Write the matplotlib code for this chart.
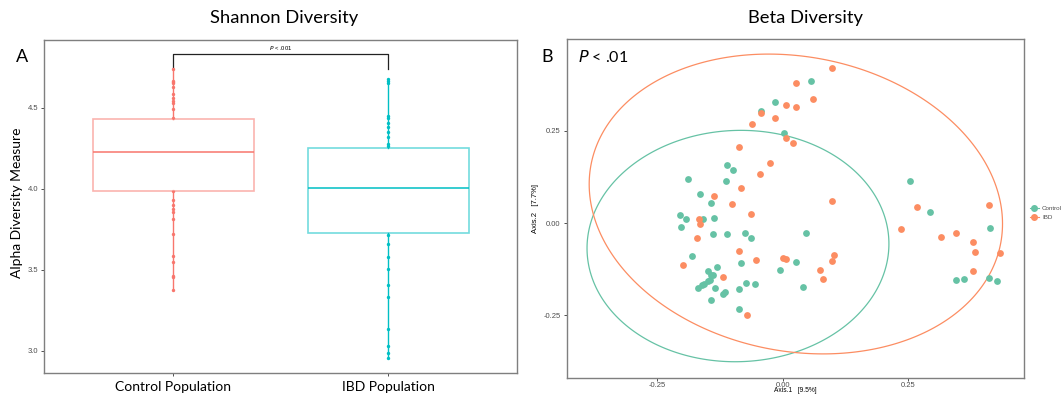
import matplotlib.pyplot as plt
import numpy as np
from matplotlib.lines import Line2D
from matplotlib.patches import Polygon

# --- Shannon diversity (panel A) ---
groups = ["Control Population", "IBD Population"]
alpha_q1 = [3.988, 3.725]
alpha_median = [4.228, 4.004]
alpha_q3 = [4.428, 4.249]
alpha_min = [3.375, 2.953]
alpha_max = [4.739, 4.677]

control_alpha = [4.739, 4.667, 4.660, 4.651, 4.626, 4.583, 4.562, 4.541, 4.527,
                 4.492, 4.435, 3.985, 3.928, 3.901, 3.875, 3.854, 3.813, 3.720,
                 3.586, 3.545, 3.461, 3.453, 3.375]
ibd_alpha = [4.677, 4.667, 4.654, 4.449, 4.435, 4.407, 4.379, 4.350, 4.321,
             4.276, 4.265, 3.714, 3.657, 3.577, 3.502, 3.406, 3.334, 3.135,
             3.030, 2.984, 2.953]

# --- Beta diversity PCoA (panel B) ---
control_ax1 = [0.057, -0.016, -0.043, 0.002, -0.111, -0.100, -0.114, -0.188, -0.164,
               -0.143, -0.204, -0.192, -0.159, -0.137, -0.203, -0.140, -0.111, -0.075,
               -0.064, 0.046, -0.180, -0.083, 0.026, -0.006, -0.131, -0.149, -0.144,
               -0.139, -0.146, -0.150, -0.156, -0.160, -0.168, -0.136, -0.073, -0.056,
               -0.088, -0.115, -0.119, -0.144, -0.088, 0.040, 0.254, 0.294, 0.413,
               0.346, 0.360, 0.410, 0.426]
control_ax2 = [0.386, 0.329, 0.303, 0.245, 0.158, 0.143, 0.115, 0.119, 0.078,
               0.053, 0.023, 0.012, 0.011, 0.014, -0.011, -0.031, -0.029, -0.026,
               -0.040, -0.028, -0.089, -0.109, -0.105, -0.128, -0.118, -0.129, -0.141,
               -0.142, -0.154, -0.158, -0.164, -0.168, -0.175, -0.175, -0.162, -0.166,
               -0.178, -0.186, -0.191, -0.209, -0.233, -0.174, 0.114, 0.031, -0.013,
               -0.154, -0.153, -0.150, -0.156]
ibd_ax1 = [0.098, 0.026, 0.060, 0.006, 0.026, -0.044, -0.015, -0.062, 0.006, 0.020,
           -0.087, -0.025, -0.045, -0.084, -0.138, -0.101, 0.099, -0.064, -0.166,
           -0.165, -0.171, -0.087, -0.199, 0.000, 0.006, -0.053, 0.102, 0.098, 0.075,
           0.080, -0.119, -0.072, 0.235, 0.268, 0.315, 0.346, 0.379, 0.411, 0.383,
           0.432, 0.378]
ibd_ax2 = [0.420, 0.378, 0.337, 0.319, 0.313, 0.298, 0.284, 0.267, 0.230, 0.217,
           0.205, 0.162, 0.134, 0.095, 0.072, 0.052, 0.059, 0.024, 0.011, -0.004,
           -0.040, -0.075, -0.114, -0.094, -0.098, -0.101, -0.088, -0.103, -0.128,
           -0.153, -0.147, -0.249, -0.017, 0.044, -0.039, -0.028, -0.051, 0.049,
           -0.079, -0.081, -0.130]

# confidence ellipses: centre, x half-width, tilt term, y term
ell_names = ["Control", "IBD"]
ell_cx = [-0.0893, 0.026]
ell_cy = [-0.0624, 0.0515]
ell_px = [0.3007, 0.4117]
ell_r = [0.006, -0.0535]
ell_s = [0.3133, 0.4025]

red, teal = "#F8766D", "#00BFC4"
green, orange = "#66C2A5", "#FC8D62"
grey_txt = "#4D4D4D"
big_font = ["Lato", "DejaVu Sans"]
small_font = ["Liberation Sans", "DejaVu Sans"]

W, H = 1062, 394
fig = plt.figure(figsize=(W / 100, H / 100), dpi=100)
plt.rcParams["font.family"] = small_font

def px_box(x0, y0, x1, y1):
    return [x0 / W, 1 - y1 / H, (x1 - x0) / W, (y1 - y0) / H]

# panel A
ax1 = fig.add_axes(px_box(44.3, 39.5, 517.3, 373.3))
pos = [1, 2]
for i, vals in enumerate([control_alpha, ibd_alpha]):
    c = [red, teal][i]
    ax1.scatter(np.full(len(vals), pos[i]), vals, s=6, color=c, zorder=3, linewidths=0)
    stats = [dict(med=alpha_median[i], q1=alpha_q1[i], q3=alpha_q3[i],
                  whislo=alpha_min[i], whishi=alpha_max[i], fliers=[])]
    ax1.bxp(stats, positions=[pos[i]], widths=0.75, showcaps=False, showfliers=False,
            patch_artist=True,
            boxprops=dict(facecolor="white", edgecolor=c, alpha=0.55, linewidth=1.2),
            medianprops=dict(color=c, alpha=0.85, linewidth=1.3),
            whiskerprops=dict(color=c, linewidth=1.0), zorder=4)

ax1.plot([1, 1, 2, 2], [4.745, 4.831, 4.831, 4.74], color="#222222", lw=0.9)
ax1.text(1.5, 4.842, r"$\it{P}$ < .001", ha="center", va="bottom", fontsize=4.2)
ax1.set_xlim(0.4, 2.6)
ax1.set_ylim(2.860, 4.921)
ax1.set_yticks([3.0, 3.5, 4.0, 4.5])
ax1.set_yticklabels(["3.0", "3.5", "4.0", "4.5"], fontsize=5.5, color=grey_txt)
ax1.set_xticks(pos)
ax1.set_xticklabels(groups, fontsize=10, family=big_font)
ax1.tick_params(axis="both", length=2.5, width=0.6, color="#333333", pad=2)
ax1.tick_params(axis="x", pad=3)
for sp in ax1.spines.values():
    sp.set_color("#7F7F7F")
    sp.set_linewidth(1.0)

# panel B
ax2 = fig.add_axes(px_box(566.7, 39.3, 1024, 377.7))
ax2.scatter(control_ax1, control_ax2, s=24, color=green, linewidths=0, zorder=3)
ax2.scatter(ibd_ax1, ibd_ax2, s=24, color=orange, linewidths=0, zorder=3)
t = np.linspace(0, 2 * np.pi, 300, endpoint=False)
for i, c in enumerate([green, orange]):
    ring = np.column_stack([ell_cx[i] + ell_px[i] * np.cos(t),
                            ell_cy[i] + ell_r[i] * np.cos(t) + ell_s[i] * np.sin(t)])
    ax2.add_patch(Polygon(ring, closed=True, fill=False, edgecolor=c, lw=0.9, zorder=2))
ax2.set_xlim(-0.4305, 0.4805)
ax2.set_ylim(-0.419, 0.4976)
ticks = [-0.25, 0.0, 0.25]
ax2.set_xticks(ticks)
ax2.set_xticklabels(["-0.25", "0.00", "0.25"], fontsize=5.5, color=grey_txt)
ax2.set_yticks(ticks)
ax2.set_yticklabels(["-0.25", "0.00", "0.25"], fontsize=5.5, color=grey_txt)
ax2.tick_params(axis="both", length=2.5, width=0.6, color="#333333", pad=2)
ax2.tick_params(axis="x", pad=0.5)
ax2.set_xlabel("Axis.1   [9.5%]", fontsize=4.8)
ax2.xaxis.set_label_coords(0.5, -(391 - 377.7) / (377.7 - 39.3))
ax2.xaxis.label.set_va("center")
ax2.set_ylabel("Axis.2   [7.7%]", fontsize=5.5, labelpad=3)
for sp in ax2.spines.values():
    sp.set_color("#7F7F7F")
    sp.set_linewidth(1.0)

handles = [Line2D([], [], color=c, marker="o", markersize=4, lw=0.8)
           for c in [green, orange]]
fig.legend(handles, ell_names, loc="center left", bbox_to_anchor=(1024 / W, 1 - 213 / H),
           frameon=False, fontsize=4.5, handlelength=1.5, handletextpad=0.5,
           labelspacing=0.5, labelcolor=grey_txt)

# headings and panel letters
fig.text(284 / W, 1 - 18 / H, "Shannon Diversity", ha="center", va="center",
         fontsize=13.2, family=big_font)
fig.text(806 / W, 1 - 18 / H, "Beta Diversity", ha="center", va="center",
         fontsize=13.2, family=big_font)
fig.text(22.4 / W, 1 - 57 / H, "A", ha="center", va="center", fontsize=13, family=big_font)
fig.text(547 / W, 1 - 57 / H, "B", ha="center", va="center", fontsize=13, family=big_font)
fig.text(578 / W, 1 - 57 / H, r"$\it{P}$ < .01", ha="left", va="center", fontsize=11.5,
         family=big_font)
fig.text(17 / W, 1 - 203 / H, "Alpha Diversity Measure", ha="center", va="center",
         rotation=90, fontsize=10, family=big_font)

fig.savefig("out.png", dpi=100)
